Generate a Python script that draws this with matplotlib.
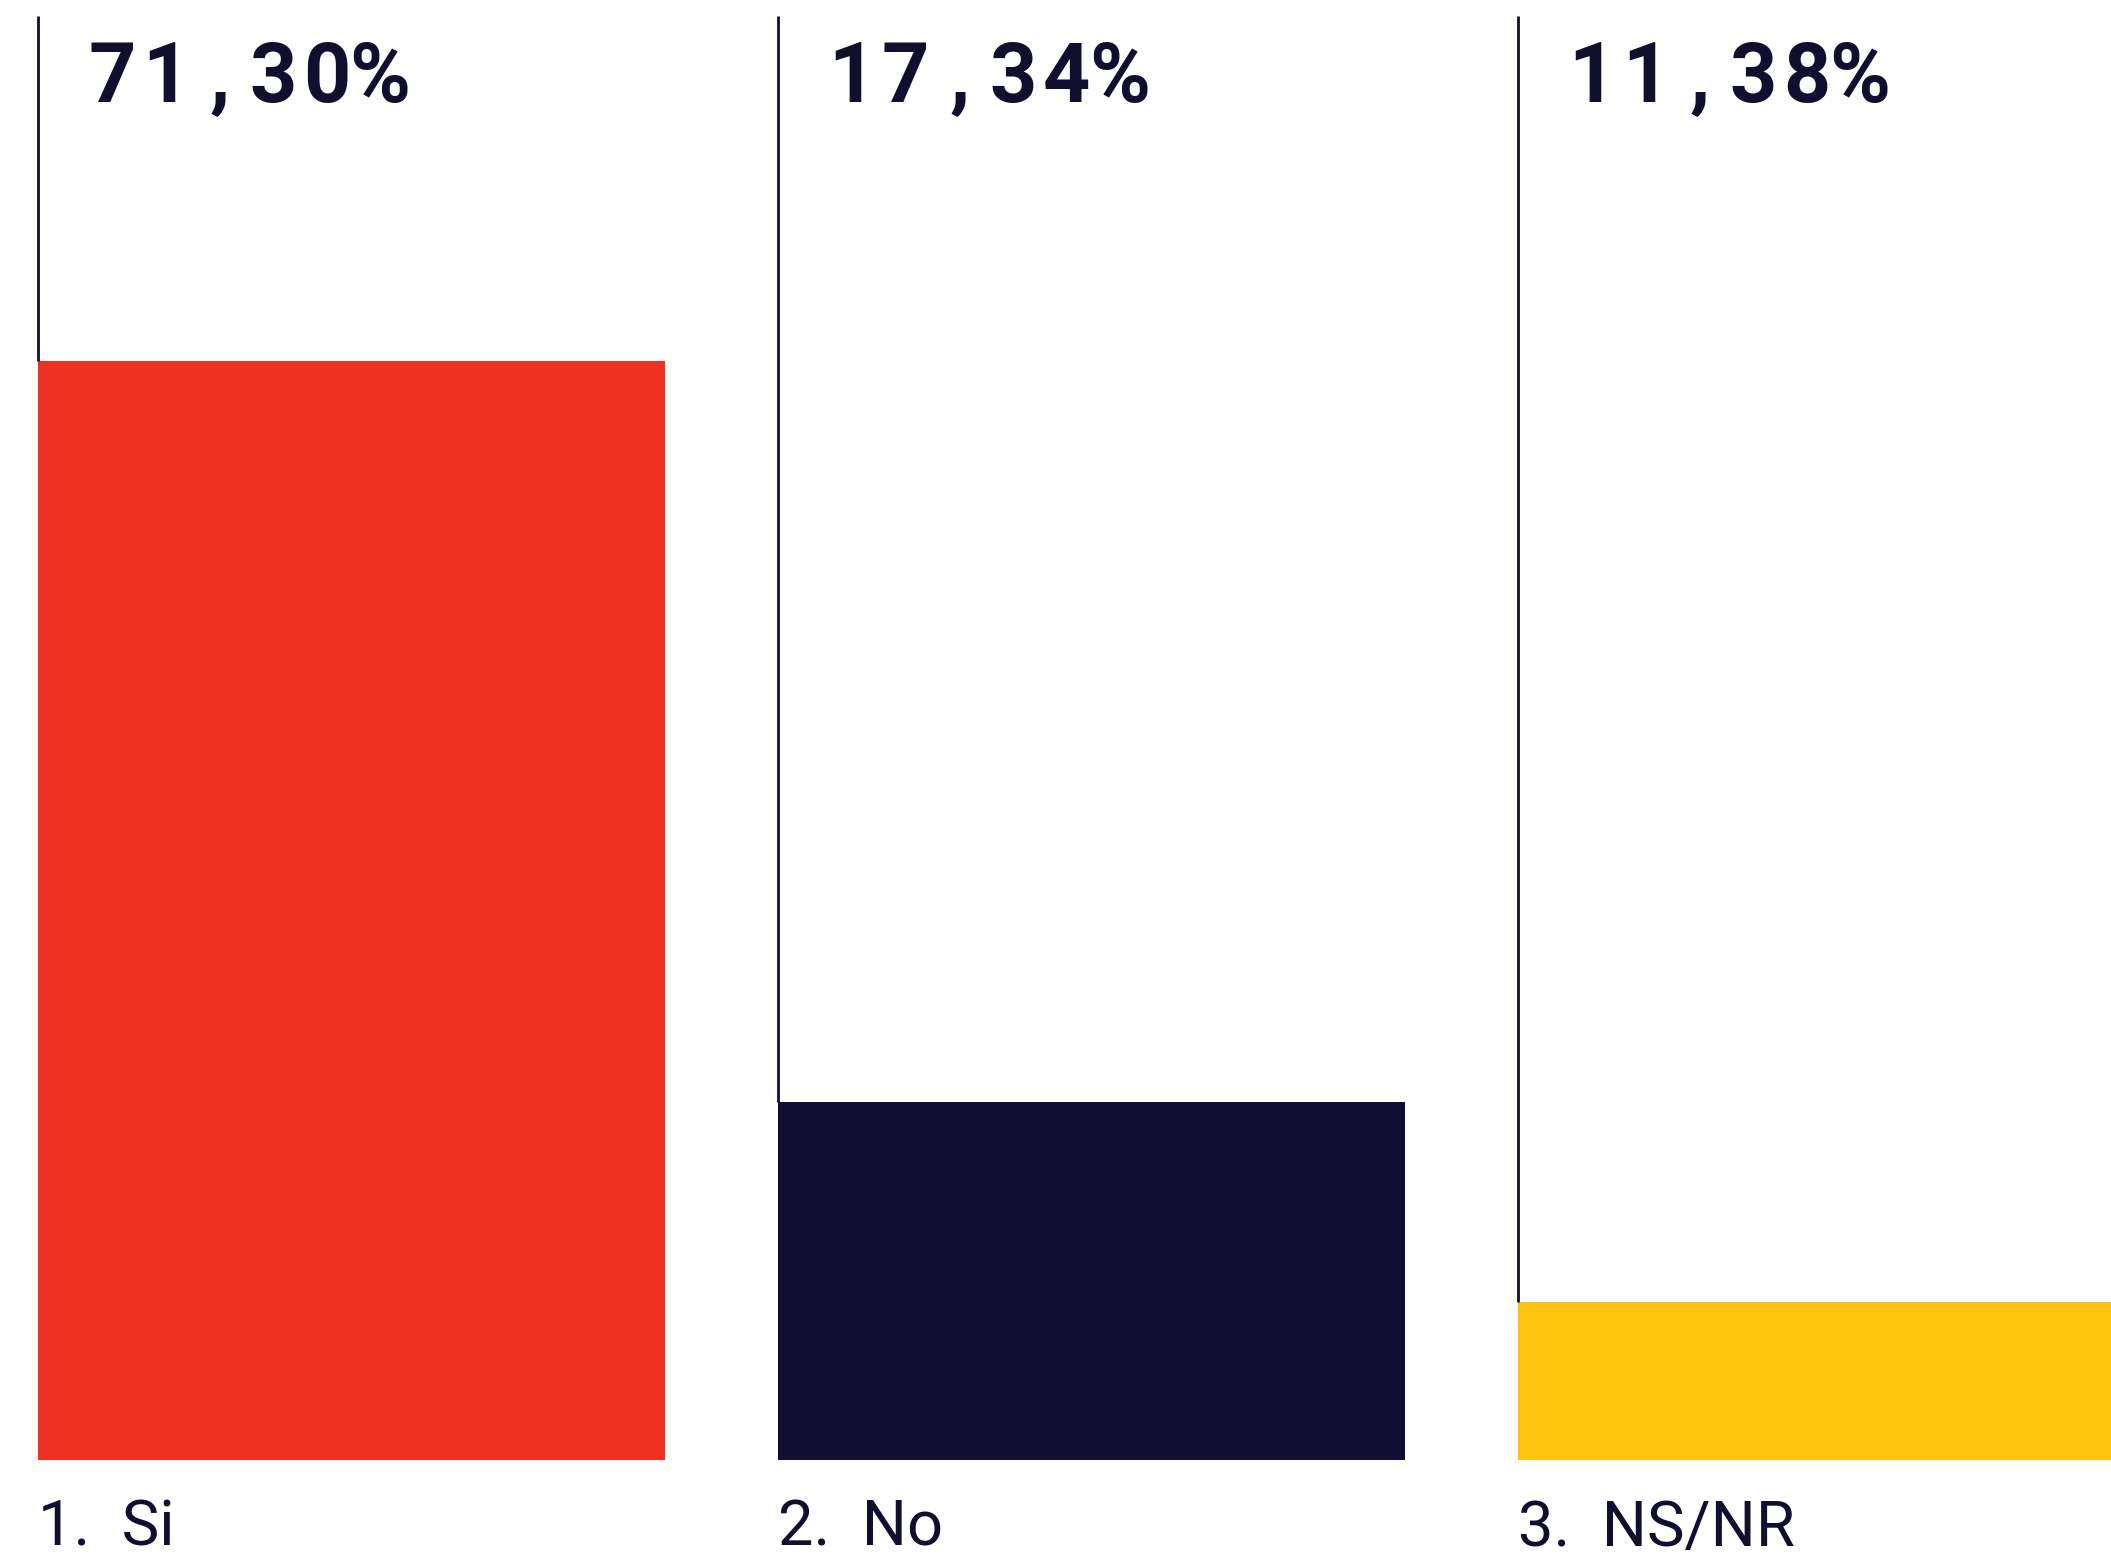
import matplotlib
matplotlib.use("Agg")
import matplotlib.pyplot as plt
import matplotlib.transforms as mtransforms

# ---- data ----
categories = ["1.  Si", "2.  No", "3.  NS/NR"]
percent_labels = ["71,30%", "17,34%", "11,38%"]
values = [71.30, 17.34, 11.38]
# bar heights as drawn in the reference (same units)
bar_heights = [71.30, 23.2, 10.25]
colors = ["#EE3123", "#100F33", "#FEC30F"]

TEXT = "#110F2E"

W, H, DPI = 2111, 1560, 100
fig = plt.figure(figsize=(W / DPI, H / DPI), dpi=DPI)
fig.patch.set_facecolor("white")

ax_bottom = 100 / H
ax_top_px = 16
ax = fig.add_axes([0, ax_bottom, 1, (H - 100 - ax_top_px) / H])
ymax = (H - 100 - ax_top_px) / 15.41
ax.set_ylim(0, ymax)
ax.set_xlim(-38 / 740, (W - 38) / 740)
ax.axis("off")

xs = list(range(len(categories)))
ax.bar(xs, bar_heights, width=627 / 740, align="edge", color=colors, linewidth=0)
ax.vlines(xs, bar_heights, ymax, color=TEXT, linewidth=2.0)

blend = mtransforms.blended_transform_factory(ax.transData, fig.transFigure)

# percentage labels, monospaced cell layout
cell = 53.6 / DPI
first = 74.0 / DPI
for i, lab in enumerate(percent_labels):
    for k, ch in enumerate(lab):
        tr = blend + mtransforms.ScaledTranslation(first + k * cell, 0, fig.dpi_scale_trans)
        fig.text(xs[i], (H - 102) / H, ch, transform=tr, ha="center", va="baseline",
                 fontfamily="Roboto", fontweight="bold", fontsize=59.5, color=TEXT)

# category labels
for i, cat in enumerate(categories):
    fig.text(xs[i], 1 / H, cat, transform=blend, ha="left", va="bottom",
             fontfamily="Roboto", fontsize=45.5, color=TEXT)

fig.savefig("out.png", dpi=DPI, facecolor="white")
